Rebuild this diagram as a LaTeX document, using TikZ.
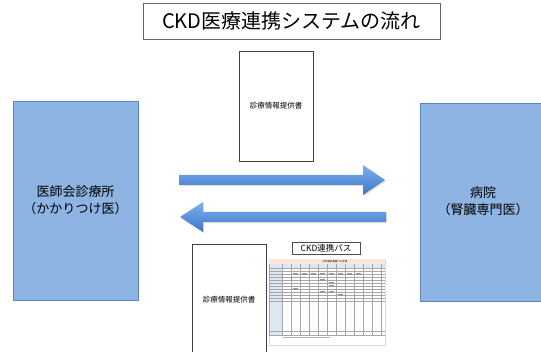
\documentclass[tikz,border=0pt]{standalone}
\usepackage{fontspec}
\setmainfont{Noto Sans CJK JP}
\usetikzlibrary{shadows}
\definecolor{boxfill}{HTML}{8EB4E3}
\definecolor{boxline}{HTML}{5A86BC}
\definecolor{arrtop}{HTML}{7DB0EE}
\definecolor{arrbot}{HTML}{3E76C8}
\definecolor{peach}{HTML}{FBE5D6}
\definecolor{lblue}{HTML}{DCE8F4}
\tikzset{
  org/.style={draw=boxline, fill=boxfill, line width=0.8pt, align=center, font=\fontsize{13}{17}\selectfont,
              drop shadow={shadow xshift=1pt, shadow yshift=-1.5pt, opacity=0.35}},
  doc/.style={draw=black!75, fill=white, line width=0.8pt, font=\fontsize{7.5}{9}\selectfont,
              drop shadow={shadow xshift=1pt, shadow yshift=-1.5pt, opacity=0.3}},
  titlebox/.style={draw=black!60, fill=white, line width=0.7pt, font=\fontsize{20}{24}\selectfont},
  lbl/.style={draw=black!70, fill=white, line width=0.7pt, font=\fontsize{8.5}{10}\selectfont, inner sep=1pt},
  blockarrow/.style={top color=arrtop, bottom color=arrbot, draw=none,
              drop shadow={shadow xshift=0.8pt, shadow yshift=-1.2pt, opacity=0.25}},
  grid/.style={draw=black!35, line width=0.25pt}
}
\begin{document}
\begin{tikzpicture}[x=1pt, y=-1pt]
\useasboundingbox (0,0) rectangle (541,352);
\clip (0,0) rectangle (541,352);
\fill[white] (0,0) rectangle (541,352);

% title
\node[titlebox, minimum width=297pt, minimum height=36pt, inner sep=0pt] (title) at (291.5,21) {CKD医療連携システムの流れ};

% organisation boxes
\node[org, minimum width=125pt, minimum height=199pt, inner sep=0pt] (clinic) at (75.5,200.5) {医師会診療所\\（かかりつけ医）};
\node[org, minimum width=140pt, minimum height=198pt, inner sep=0pt, text width=130pt] (hospital) at (490,202) {};
\node[align=center, font=\fontsize{13}{17}\selectfont] (hosptext) at (483,201) {病院\\（腎臓専門医）};

% documents
\node[doc, minimum width=74pt, minimum height=110pt, inner sep=0pt] (doctop) at (276,106) {診療情報提供書};
\node[doc, minimum width=74pt, minimum height=120pt, inner sep=0pt] (docbot) at (229,304) {};
\node[font=\fontsize{7.5}{9}\selectfont] (docbottext) at (229,300) {診療情報提供書};

% block arrows
\path[blockarrow] (179,175) -- (363,175) -- (363,165) -- (385,180) -- (363,195) -- (363,185) -- (179,185) -- cycle;
\path[blockarrow] (386,212) -- (203,212) -- (203,202) -- (180,217) -- (203,232) -- (203,222) -- (386,222) -- cycle;

% CKD path label
\node[lbl, minimum width=68pt, minimum height=12pt] (pass) at (326,248) {CKD連携パス};

% spreadsheet
\node[draw=black!15, fill=white, minimum width=116pt, minimum height=86pt, inner sep=0pt] (sheet) at (327,302) {};
\fill[peach] (269,259) rectangle (385,264);
\node[font=\fontsize{2.5}{3}\selectfont] (sheettitle) at (335,261.5) {CKD病診連携パス手帳};
\fill[lblue] (269,264) rectangle (385,268);
\fill[lblue] (269,268) rectangle (282,335);
\foreach \y in {268,271,...,301} \draw[grid] (269,\y) -- (385,\y);
\draw[grid] (269,331) -- (385,331);
\draw[grid] (269,335) -- (385,335);
\foreach \x in {282,291,300,...,381} \draw[grid] (\x,264) -- (\x,335);
\draw[grid] (269,264) -- (269,335);
\foreach \x/\y in {291/274,300/274,309/274,318/274,327/274,336/274,345/274,354/274,318/280,327/283,327/286,318/292,327/292,336/295,291/289}
  \fill[black!40] (\x+1.5,\y-0.6) rectangle (\x+6.5,\y+0.6);
\fill[black!30] (283,337.5) rectangle (330,338.5);
\end{tikzpicture}
\end{document}
